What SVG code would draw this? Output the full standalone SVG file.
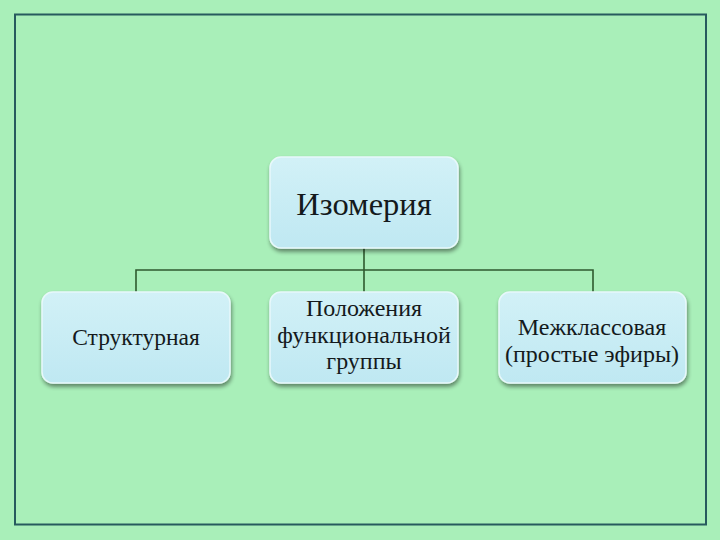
<svg xmlns="http://www.w3.org/2000/svg" width="720" height="540" viewBox="0 0 720 540">
<defs>
<linearGradient id="bf" x1="0" y1="0" x2="0" y2="1">
<stop offset="0" stop-color="#d2f1f7"/>
<stop offset="1" stop-color="#bfe8f2"/>
</linearGradient>
<filter id="sh" x="-10%" y="-10%" width="130%" height="140%">
<feGaussianBlur in="SourceAlpha" stdDeviation="2"/>
<feOffset dx="1" dy="3"/>
<feComponentTransfer><feFuncA type="linear" slope="0.45"/></feComponentTransfer>
<feMerge><feMergeNode/><feMergeNode in="SourceGraphic"/></feMerge>
</filter>
</defs>
<style>
.box{fill:url(#bf);stroke:#e8f8fb;stroke-width:1.5;filter:url(#sh)}
.t{font-family:"Liberation Serif","Times New Roman",serif;fill:#141a1c;text-anchor:middle}
.c{fill:none;stroke:#2f5a2f;stroke-width:1.6}
</style>
<rect width="720" height="540" fill="#a9efb9"/>
<rect x="15" y="14.5" width="691" height="510" fill="none" stroke="#275a5e" stroke-width="2"/>
<g id="connectors">
<path class="c" d="M364 248V270M136 292V270H593V292M364 270V292"/>
</g>
<g id="n0">
<rect class="box" x="270" y="157" width="188" height="91" rx="11"/>
<text class="t" x="364" y="215" font-size="32.5">Изомерия</text>
</g>
<g id="n1">
<rect class="box" x="42" y="292" width="188" height="91" rx="11"/>
<text class="t" x="136" y="345" font-size="23.5">Структурная</text>
</g>
<g id="n2">
<rect class="box" x="270" y="292" width="188" height="91" rx="11"/>
<text class="t" x="364" y="316" font-size="24">Положения</text>
<text class="t" x="364" y="343" font-size="24">функциональной</text>
<text class="t" x="364" y="369" font-size="24">группы</text>
</g>
<g id="n3">
<rect class="box" x="499" y="292" width="187" height="91" rx="11"/>
<text class="t" x="592" y="335" font-size="24">Межклассовая</text>
<text class="t" x="592" y="362" font-size="24">(простые эфиры)</text>
</g>
</svg>
